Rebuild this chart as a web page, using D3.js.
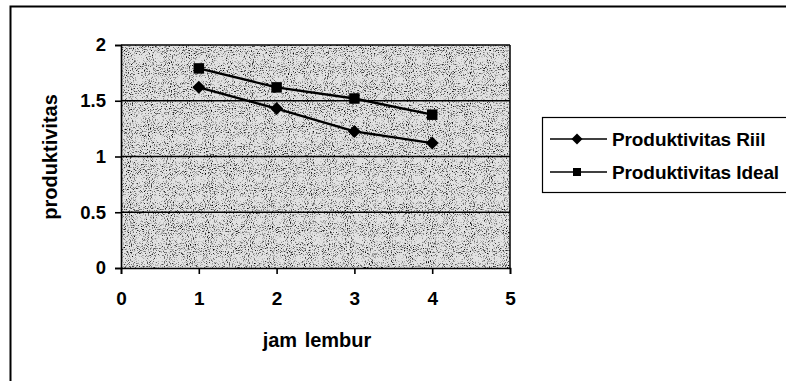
<!DOCTYPE html>
<html><head><meta charset="utf-8">
<script src="https://cdn.jsdelivr.net/npm/d3@7"></script>
<style>body{margin:0;background:#fff;}svg{display:block;font-family:"Liberation Sans",Arial,sans-serif;font-weight:bold;}</style>
</head><body>
<svg id="c" width="786" height="381"></svg>
<script>
const jamLembur = [1, 2, 3, 4];
const produktivitasRiil = [1.62, 1.43, 1.225, 1.12];
const produktivitasIdeal = [1.79, 1.62, 1.52, 1.375];
const xTicks = [0, 1, 2, 3, 4, 5];
const yTicks = [0, 0.5, 1, 1.5, 2];
const seriesNames = ["Produktivitas Riil", "Produktivitas Ideal"];

const svg = d3.select("#c");
const defs = svg.append("defs");
const f = defs.append("filter").attr("id","noise").attr("x",0).attr("y",0).attr("width","100%").attr("height","100%");
f.append("feTurbulence").attr("type","fractalNoise").attr("baseFrequency",0.95).attr("numOctaves",2).attr("seed",5).attr("result","t");
f.append("feColorMatrix").attr("in","t").attr("type","matrix")
 .attr("values","0 0 0 0 0  0 0 0 0 0  0 0 0 0 0  -3.4 0 0 0 1.6").attr("result","m");
f.append("feComposite").attr("in","m").attr("in2","SourceGraphic").attr("operator","in");

// outer frame
svg.append("path").attr("d","M10.5,381 V6.5 H786").attr("fill","none").attr("stroke","#000").attr("stroke-width",2);

const x = d3.scaleLinear().domain([0,5]).range([121,510]);
const y = d3.scaleLinear().domain([0,2]).range([268,45]);

// plot background (stippled gray)
svg.append("rect").attr("x",121).attr("y",45).attr("width",389).attr("height",223).attr("fill","#e2e2e2");
svg.append("rect").attr("x",121).attr("y",45).attr("width",389).attr("height",223).attr("fill","#000").attr("filter","url(#noise)");

// gridlines
svg.append("g").selectAll("line").data(yTicks.filter(d=>d>0)).join("line")
 .attr("x1",121).attr("x2",510).attr("y1",d=>y(d)).attr("y2",d=>y(d)).attr("stroke","#000").attr("stroke-width",1.3);
// right border
svg.append("line").attr("x1",510).attr("x2",510).attr("y1",45).attr("y2",268).attr("stroke","#000").attr("stroke-width",1.5);

const xAxis = svg.append("g").attr("transform","translate(0,268)")
 .call(d3.axisBottom(x).tickValues(xTicks).tickFormat(d3.format("d")).tickSize(6).tickPadding(18));
const yAxis = svg.append("g").attr("transform","translate(121,0)")
 .call(d3.axisLeft(y).tickValues(yTicks).tickFormat(d=>String(d)).tickSize(6).tickPadding(9));
[xAxis,yAxis].forEach(a=>{
  a.selectAll("path,line").attr("stroke","#000").attr("stroke-width",1.6);
  a.selectAll("text").attr("font-family","'Liberation Sans',Arial,sans-serif").attr("font-weight","bold").attr("fill","#000");
});
xAxis.selectAll("text").attr("font-size",19);
yAxis.selectAll("text").attr("font-size",18.5);

const rhombus = r => ({draw(ctx){ctx.moveTo(0,-r);ctx.lineTo(r,0);ctx.lineTo(0,r);ctx.lineTo(-r,0);ctx.closePath();}});
const line = d3.line().x((d,i)=>x(jamLembur[i])).y(d=>y(d));
const series = [
  {v:produktivitasRiil, sym:d3.symbol().type(rhombus(6.5)), leg:d3.symbol().type(rhombus(5.5))},
  {v:produktivitasIdeal, sym:d3.symbol().type(d3.symbolSquare).size(110), leg:d3.symbol().type(d3.symbolSquare).size(64)}
];
series.forEach(s=>{
  svg.append("path").attr("d",line(s.v)).attr("fill","none").attr("stroke","#000").attr("stroke-width",2.4);
  svg.append("g").selectAll("path").data(s.v).join("path")
   .attr("transform",(d,i)=>`translate(${x(jamLembur[i])},${y(d)})`).attr("d",s.sym).attr("fill","#000");
});

// axis titles
svg.append("text").attr("x",317).attr("y",347).attr("text-anchor","middle").attr("font-size",20).attr("word-spacing",2).text("jam lembur");
svg.append("text").attr("transform","translate(57,157) rotate(-90)").attr("text-anchor","middle").attr("font-size",20).text("produktivitas");

// legend
svg.append("rect").attr("x",542.5).attr("y",117.5).attr("width",250).attr("height",75).attr("fill","#fff").attr("stroke","#000").attr("stroke-width",1.2);
const leg = svg.append("g").selectAll("g").data(series).join("g")
 .attr("transform",(d,i)=>`translate(0,${139+i*33})`);
leg.append("line").attr("x1",550).attr("x2",607).attr("stroke","#000").attr("stroke-width",1.5);
leg.append("path").attr("transform","translate(577,0)").attr("d",d=>d.leg()).attr("fill","#000");
leg.append("text").attr("x",612).attr("y",7).attr("font-size",19).attr("letter-spacing",-0.1).text((d,i)=>seriesNames[i]);
</script>
</body></html>
